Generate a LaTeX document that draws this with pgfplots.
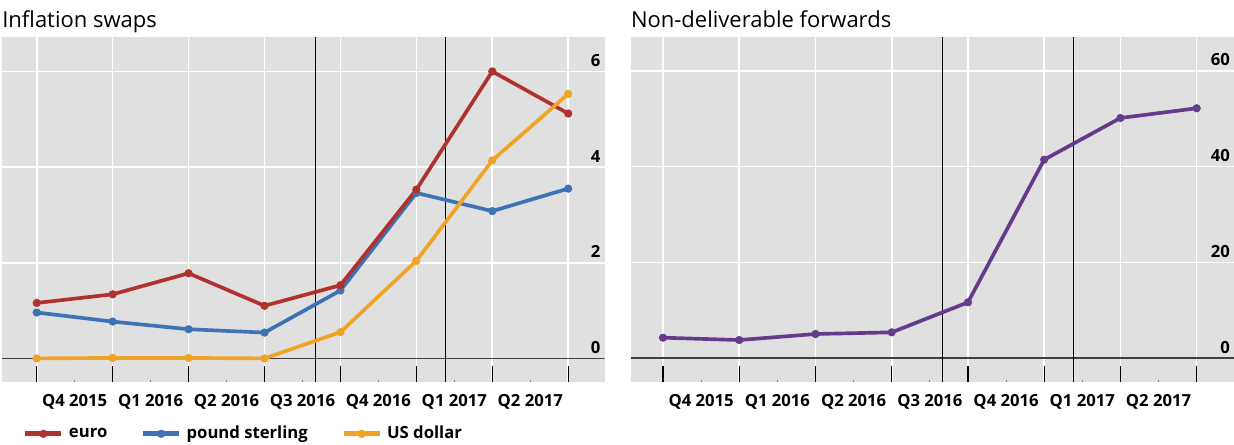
\documentclass[border=0pt]{standalone}
\usepackage{fontspec}
\setmainfont{Open Sans}
\usepackage{pgfplots}
\pgfplotsset{compat=1.18}

\definecolor{bg}{RGB}{224,224,224}
\definecolor{zeroline}{RGB}{64,64,64}
\definecolor{euroc}{RGB}{176,50,46}
\definecolor{poundc}{RGB}{61,114,181}
\definecolor{usdc}{RGB}{240,164,38}
\definecolor{ndfc}{RGB}{101,59,139}

\newcommand{\tickfont}{\bfseries\fontsize{10}{12}\selectfont}

\pgfplotsset{
  panel/.style={
    scale only axis,
    height=207.2pt,
    axis background/.style={fill=bg},
    axis line style={draw=none},
    xmajorgrids, ymajorgrids,
    grid style={white, line width=1pt},
    xtick={0,...,7},
    xticklabels={,,,,,,,},
    xtick pos=bottom,
    tick align=inside,
    major tick length=10pt,
    xtick style={black, line width=0.7pt},
    ytick style={draw=none},
    extra x ticks={0.5,1.5,2.5,3.5,4.5,5.5,6.5},
    extra x tick labels={Q4 2015,Q1 2016,Q2 2016,Q3 2016,Q4 2016,Q1 2017,Q2 2017},
    extra x tick style={grid=none, major tick length=1.5pt,
      xtick style={gray, line width=0.4pt}},
    xticklabel style={anchor=base, yshift=-14.8pt, font=\tickfont},
    yticklabel pos=right,
    yticklabel style={anchor=base east, inner sep=0pt, xshift=-2.3pt, yshift=3pt, font=\tickfont},
    /pgf/number format/assume math mode=true,
    title style={at={(0,1)}, anchor=base west, inner sep=0pt, yshift=-0.6pt,
      font=\fontsize{13.2}{15}\selectfont},
  },
  series/.style={line width=2.2pt, mark=*, mark size=2.2pt,
    mark options={line width=0.5pt}, color=#1},
  helper/.style={forget plot, no marks, line width=#1},
}

\begin{document}
\begin{tikzpicture}
\useasboundingbox (0,0) rectangle (740.4pt,267pt);

% left panel
\begin{axis}[panel,
    at={(1.2pt,37.6pt)}, anchor=south west,
    width=361.6pt,
    xmin=-0.457, xmax=7.48,
    ymin=-0.5, ymax=6.72,
    ytick={0,2,4,6},
    title={Inflation swaps},
    legend columns=3,
    legend style={at={(axis description cs:0.0348,-0.149)}, anchor=west,
      draw=none, fill=none, inner sep=0pt, outer sep=0pt, font=\tickfont,
      /tikz/every odd column/.append style={column sep=1pt},
      /tikz/every even column/.append style={column sep=18pt}},
    legend image code/.code={\draw[#1, line width=3pt, mark repeat=2, mark phase=2]
      plot coordinates {(0pt,0pt) (10.8pt,0pt) (21.6pt,0pt)};},
  ]
  \addlegendimage{series=euroc}\addlegendentry{euro}
  \addlegendimage{series=poundc}\addlegendentry{pound sterling}
  \addlegendimage{series=usdc}\addlegendentry{US dollar}

  \addplot[helper=0.8pt, zeroline] coordinates {(-0.457,0) (7.48,0)};
  \addplot[helper=0.6pt, black] coordinates {(3.67,-0.5) (3.67,6.72)};
  \addplot[helper=0.6pt, black] coordinates {(5.39,-0.5) (5.39,6.72)};

  \addplot[series=poundc, forget plot] coordinates {
    (0,0.96) (1,0.77) (2,0.61) (3,0.54) (4,1.42) (5,3.46) (6,3.08) (7,3.55)};
  \addplot[series=euroc, forget plot] coordinates {
    (0,1.16) (1,1.34) (2,1.78) (3,1.10) (4,1.53) (5,3.53) (6,6.00) (7,5.12)};
  \addplot[series=usdc, forget plot] coordinates {
    (0,0.00) (1,0.01) (2,0.01) (3,0.00) (4,0.55) (5,2.04) (6,4.14) (7,5.53)};
\end{axis}

% right panel
\begin{axis}[panel,
    at={(378.4pt,37.6pt)}, anchor=south west,
    width=362pt,
    xmin=-0.424, xmax=7.49,
    ymin=-5.08, ymax=67.1,
    ytick={0,20,40,60},
    title={Non-deliverable forwards},
  ]
  \addplot[helper=0.8pt, zeroline] coordinates {(-0.424,0) (7.49,0)};
  \addplot[helper=0.6pt, black] coordinates {(3.67,-5.08) (3.67,67.1)};
  \addplot[helper=0.6pt, black] coordinates {(5.38,-5.08) (5.38,67.1)};

  \addplot[series=ndfc] coordinates {
    (0,4.25) (1,3.76) (2,5.02) (3,5.37) (4,11.64) (5,41.46) (6,50.17) (7,52.2)};
\end{axis}
\end{tikzpicture}
\end{document}
